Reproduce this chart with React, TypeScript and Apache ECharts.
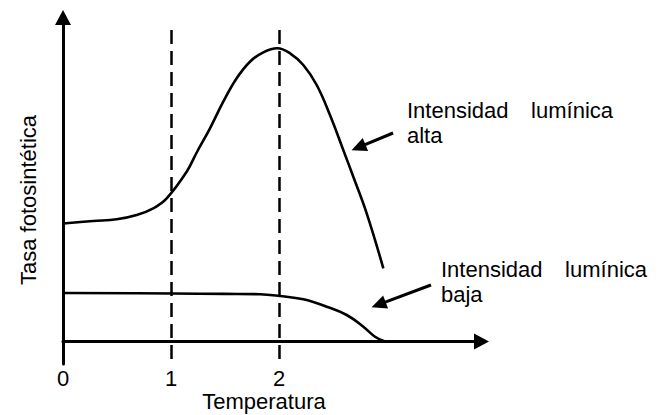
import React, { useEffect, useRef } from 'react';
import * as echarts from 'echarts';

// Temperature (x) vs photosynthetic rate (y), arbitrary units
const xTickLabels = ['0', '1', '2'];
const altaCurve: [number, number][] = [
  [0, 118], [0.28, 120.5], [0.497, 122.2], [0.682, 126.5], [0.836, 133.2],
  [0.96, 143.2], [1.145, 169.8], [1.238, 189], [1.361, 213.2], [1.484, 239.8],
  [1.608, 263.2], [1.731, 279.8], [1.855, 289.2], [1.984, 293.2], [2.102, 288.2],
  [2.225, 276.5], [2.349, 256.5], [2.472, 226.5], [2.595, 191.5], [2.688, 164.8],
  [2.812, 128.2], [2.966, 73.2],
];
const bajaCurve: [number, number][] = [
  [0, 48.5], [1.019, 48], [1.5, 47.6], [1.824, 47.3], [2.009, 45.5], [2.225, 42.2],
  [2.442, 34.8], [2.627, 26.5], [2.781, 14.8], [2.889, 4.8], [2.981, 0],
];
const guideX = [1, 2];
const guideTop = 311.5;
const yMin = -22.5;
const yMax = 324;
const xMax = 3.875;
const arrowAlta: [number, number][] = [[3.056, 208.5], [2.736, 194.2]];
const arrowBaja: [number, number][] = [[3.407, 56.5], [2.922, 36.9]];

const FONT = 'Liberation Sans, Arial, Helvetica, sans-serif';

export default function App() {
  const ref = useRef<HTMLDivElement>(null);
  useEffect(() => {
    if (!ref.current) return;
    const chart = echarts.init(ref.current, undefined, { renderer: 'svg' });
    const txt = (text: string, x: number, y: number, align: string = 'left', rotation = 0) => ({
      type: 'text',
      x,
      y,
      rotation,
      silent: true,
      style: {
        text,
        fill: '#000',
        font: `22px ${FONT}`,
        lineHeight: 18,
        align,
        verticalAlign: 'middle',
      },
    });
    const arrowLine = (pts: [number, number][]) => [
      { coord: pts[0], symbol: 'none' },
      { coord: pts[1], symbol: 'triangle', symbolSize: [14, 15] },
    ];
    chart.setOption({
      animation: false,
      backgroundColor: '#fff',
      textStyle: { fontFamily: FONT },
      grid: { left: 63, top: 17.5, width: 418.5, height: 346.5, containLabel: false },
      xAxis: {
        type: 'value',
        min: 0,
        max: xMax,
        interval: 1,
        axisLine: {
          onZero: true,
          lineStyle: { color: '#000', width: 3 },
          symbol: ['none', 'triangle'],
          symbolSize: [16, 15],
        },
        axisTick: { show: false },
        splitLine: { show: false },
        axisLabel: {
          margin: 6,
          lineHeight: 16,
          color: '#000',
          fontSize: 22,
          fontFamily: FONT,
          showMaxLabel: false,
          formatter: (v: number) => (xTickLabels[Math.round(v)] !== undefined && Math.abs(v - Math.round(v)) < 1e-6 ? xTickLabels[Math.round(v)] : ''),
        },
      },
      yAxis: {
        type: 'value',
        min: yMin,
        max: yMax,
        axisLine: {
          onZero: false,
          lineStyle: { color: '#000', width: 3 },
          symbol: ['none', 'triangle'],
          symbolSize: [16, 15],
        },
        axisTick: { show: false },
        splitLine: { show: false },
        axisLabel: { show: false },
      },
      series: [
        {
          name: 'Intensidad lumínica alta',
          type: 'line',
          data: altaCurve,
          smooth: 0.4,
          showSymbol: false,
          lineStyle: { color: '#000', width: 2.6 },
          silent: true,
        },
        {
          name: 'Intensidad lumínica baja',
          type: 'line',
          data: bajaCurve,
          smooth: 0.4,
          showSymbol: false,
          lineStyle: { color: '#000', width: 2.6 },
          silent: true,
        },
        {
          name: 'guides',
          type: 'line',
          data: [],
          silent: true,
          markLine: {
            silent: true,
            symbol: 'none',
            label: { show: false },
            lineStyle: { color: '#000', width: 2.5, type: [14, 7] },
            emphasis: { disabled: true },
            data: guideX.map((gx) => [{ coord: [gx, guideTop] }, { coord: [gx, yMin] }]),
          },
        },
        {
          name: 'arrows',
          type: 'line',
          data: [],
          silent: true,
          markLine: {
            silent: true,
            label: { show: false },
            lineStyle: { color: '#000', width: 3, type: 'solid' },
            itemStyle: { color: '#000' },
            emphasis: { disabled: true },
            data: [arrowLine(arrowAlta), arrowLine(arrowBaja)],
          },
        },
      ],
      graphic: [
        txt('Intensidad', 407, 110.5),
        txt('lumínica', 613, 110.5, 'right'),
        txt('alta', 407, 135.5),
        txt('Intensidad', 441, 269),
        txt('lumínica', 647, 269, 'right'),
        txt('baja', 441, 294),
        txt('Temperatura', 264, 401, 'center'),
        txt('Tasa fotosintética', 28.5, 200, 'center', Math.PI / 2),
      ],
    });
    return () => chart.dispose();
  }, []);
  return (
    <div
      ref={ref}
      style={{ position: 'fixed', left: 0, top: 0, width: 661, height: 415, background: '#fff' }}
    />
  );
}
